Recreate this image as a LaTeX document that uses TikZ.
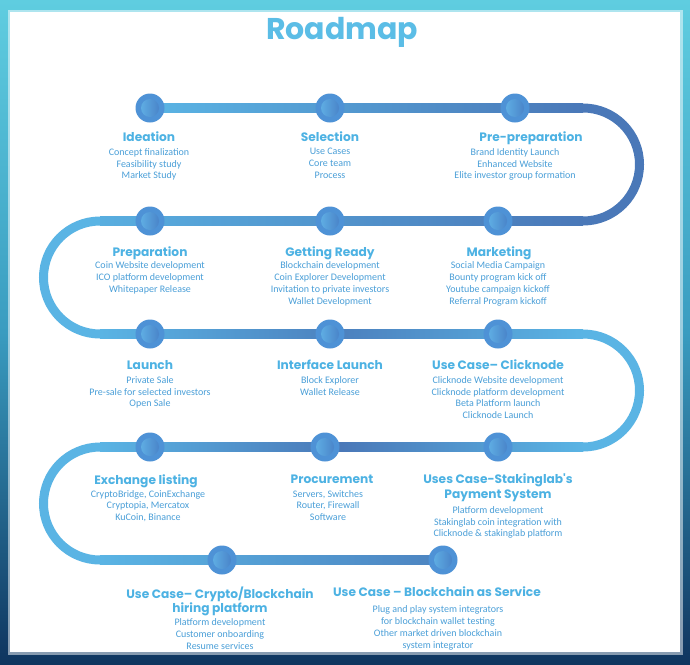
\documentclass[tikz,border=0pt]{standalone}
\usepackage{fontspec}
\usepackage{tikz}
\usetikzlibrary{backgrounds,calc}
\newfontfamily\headfont{Poppins}
\newfontfamily\bodyfont{Carlito}
\definecolor{framecyan}{HTML}{5FCDE0}
\definecolor{frameteal}{HTML}{3A9CC0}
\definecolor{framenavy}{HTML}{0F355F}
\definecolor{titleblue}{HTML}{5BBDE6}
\definecolor{headblue}{HTML}{4DB2E3}
\definecolor{textblue}{HTML}{4A9FD8}
\definecolor{tracklight}{HTML}{5AB4E4}
\definecolor{trackdark}{HTML}{4A78B8}
\definecolor{ringblue}{HTML}{4E92D6}
\definecolor{coreleft}{HTML}{64B8EA}
\definecolor{coreright}{HTML}{4479C2}

\begin{document}
\begin{tikzpicture}[
          x=1pt, y=-1pt,
          station/.style={circle, minimum size=29pt, inner sep=0pt, fill=ringblue,
            path picture={\shade[left color=coreleft, right color=coreright] (path picture bounding box.center) circle (9pt);}},
          heading/.style={anchor=north, align=center, inner sep=0pt, text=headblue, font=\headfont\bfseries\fontsize{12.2}{14.2}\selectfont},
          body/.style={anchor=north, align=center, inner sep=0pt, text=textblue, font=\bodyfont\fontsize{10}{11.8}\selectfont},
          track/.style={line width=9pt}
      ]
        \useasboundingbox (0,0) rectangle (690,664);
        \node[anchor=base, inner sep=0pt, text=titleblue, font=\headfont\bfseries\fontsize{30}{36}\selectfont] (title) at (342,39) {Roadmap};

        \node[station] (ideation) at (150,108) {};
        \node[station] (selection) at (330,108) {};
        \node[station] (prepre) at (515,108) {};
        \node[station] (preparation) at (150,221) {};
        \node[station] (ready) at (330,221) {};
        \node[station] (marketing) at (498,221) {};
        \node[station] (launch) at (150,334) {};
        \node[station] (interface) at (330,334) {};
        \node[station] (clicknode) at (498,334) {};
        \node[station] (exchange) at (150,447) {};
        \node[station] (procurement) at (325,447) {};
        \node[station] (staking) at (498,447) {};
        \node[station] (hiring) at (222,560) {};
        \node[station] (baas) at (443,560) {};

        \coordinate (turnA) at (583,108);
        \coordinate (turnB) at (583,221);
        \coordinate (turnC) at (100,221);
        \coordinate (turnD) at (100,334);
        \coordinate (turnE) at (583,334);
        \coordinate (turnF) at (583,447);
        \coordinate (turnG) at (100,447);
        \coordinate (turnH) at (100,560);

        \begin{pgfonlayer}{background}
          \shade[top color=framecyan, bottom color=framenavy, middle color=frameteal] (0,0) rectangle (690,664);
          \fill[white] (10,12) rectangle (680,652);
          \draw[white, opacity=0.5, line width=5pt] (10,12) rectangle (680,652);

          \shade[left color=tracklight, right color=trackdark] ($(ideation.center)+(0,-4.5)$) rectangle ($(turnA)+(0,4.5)$);
          \draw[track, trackdark] (turnA) arc[start angle=90, end angle=-90, radius=56.5pt];
          \shade[left color=tracklight!90!trackdark, right color=trackdark] ($(turnC)+(0,-4.5)$) rectangle ($(turnB)+(0,4.5)$);
          \draw[track, tracklight] (turnC) arc[start angle=90, end angle=270, radius=56.5pt];
          \shade[left color=tracklight, right color=tracklight, middle color=trackdark!85!tracklight] ($(turnD)+(0,-4.5)$) rectangle ($(turnE)+(0,4.5)$);
          \draw[track, tracklight] (turnE) arc[start angle=90, end angle=-90, radius=56.5pt];
          \shade[left color=tracklight, right color=tracklight, middle color=trackdark] ($(turnG)+(0,-4.5)$) rectangle ($(turnF)+(0,4.5)$);
          \draw[track, tracklight] (turnG) arc[start angle=90, end angle=270, radius=56.5pt];
          \shade[left color=tracklight, right color=trackdark!80!tracklight] ($(turnH)+(0,-4.5)$) rectangle ($(baas.center)+(0,4.5)$);
        \end{pgfonlayer}

        \node[heading] (ideationhead) at (149,131.5) {Ideation};
        \node[body] (ideationtext) at (149,148.2) {Concept finalization\\Feasibility study\\Market Study};
        \node[heading] (selectionhead) at (330,131.5) {Selection};
        \node[body] (selectiontext) at (330,148.2) {Use Cases\\Core team\\Process};
        \node[heading] (preprehead) at (531,131.5) {Pre-preparation};
        \node[body] (publicprepre) at (515,148.2) {Brand Identity Launch\\Enhanced Website\\Elite investor group formation};

        \node[heading] (preparationhead) at (150,246.5) {Preparation};
        \node[body] (preparationtext) at (150,261.7) {Coin Website development\\ICO platform development\\Whitepaper Release};
        \node[heading] (readyhead) at (330,246.5) {Getting Ready};
        \node[body] (readytext) at (330,261.7) {Blockchain development\\Coin Explorer Development\\Invitation to private investors\\Wallet Development};
        \node[heading] (marketinghead) at (499,246.5) {Marketing};
        \node[body] (marketingtext) at (498,261.7) {Social Media Campaign\\Bounty program kick off\\Youtube campaign kickoff\\Referral Program kickoff};

        \node[heading] (launchhead) at (150,360) {Launch};
        \node[body] (launchtext) at (150,376.2) {Private Sale\\Pre-sale for selected investors\\Open Sale};
        \node[heading] (interfacehead) at (330,360) {Interface Launch};
        \node[body] (interfacetext) at (330,376.2) {Block Explorer\\Wallet Release};
        \node[heading] (clicknodehead) at (498,360) {Use Case– Clicknode};
        \node[body] (clicknodetext) at (498,376.2) {Clicknode Website development\\Clicknode platform development\\Beta Platform launch\\Clicknode Launch};

        \node[heading] (exchangehead) at (146,474.5) {Exchange listing};
        \node[body] (exchangetext) at (148,490) {CryptoBridge, CoinExchange\\Cryptopia, Mercatox\\KuCoin, Binance};
        \node[heading] (procurementhead) at (332,474.5) {Procurement};
        \node[body] (procurementtext) at (328,490) {Servers, Switches\\Router, Firewall\\Software};
        \node[heading] (stakinghead) at (498,474) {Uses Case-Stakinglab's\\Payment System};
        \node[body] (stakingtext) at (498,506.2) {Platform development\\Stakinglab coin integration with\\Clicknode \& stakinglab platform};

        \node[heading] (hiringhead) at (220,586.5) {Use Case– Crypto/Blockchain\\hiring platform};
        \node[body] (hiringtext) at (220,618.6) {Platform development\\Customer onboarding\\Resume services};
        \node[heading] (baashead) at (437,587) {Use Case – Blockchain as Service};
        \node[body] (baastext) at (438,605.7) {Plug and play system integrators\\for blockchain wallet testing\\Other market driven blockchain\\system integrator};
      \end{tikzpicture}
\end{document}
